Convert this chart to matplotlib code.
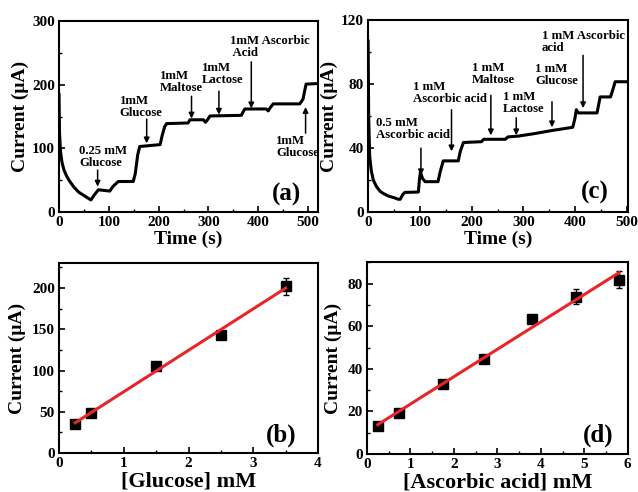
import numpy as np
import matplotlib
matplotlib.use('Agg')
import matplotlib.pyplot as plt
from matplotlib.ticker import MultipleLocator

plt.rcParams['font.family'] = ['Liberation Serif', 'DejaVu Serif']
plt.rcParams['font.weight'] = 'bold'
plt.rcParams['axes.labelweight'] = 'bold'

# (a) amperometric response, glucose additions
t_a = [0, 1, 3, 6, 10, 15, 20, 30, 40, 50, 60, 64, 70, 79, 102, 108, 119, 149, 153, 158, 162,
       203, 207, 212, 216, 259, 263, 290, 294, 299, 303, 366, 370, 373, 416, 420, 424, 430,
       483, 487, 490, 493, 496, 520]
I_a = [185, 125, 95, 78, 66, 57, 50, 39, 31, 26, 21, 19, 26, 35, 33, 40, 48, 48, 60, 90, 103,
       106, 120, 134, 139, 140, 145, 145, 141, 146, 151, 152, 158, 162, 162, 159, 164, 170,
       170, 174, 178, 190, 201, 202]

# (c) amperometric response, ascorbic acid additions
t_c = [0, 1, 3, 6, 10, 16, 23, 30, 39, 50, 58, 62, 67, 71, 97, 99, 101, 105, 110, 135, 139,
       145, 174, 178, 184, 219, 223, 265, 270, 290, 320, 355, 395, 399, 402, 406, 442, 445,
       448, 468, 472, 477, 500]
I_c = [107, 60, 35, 26, 20, 16, 13, 11.5, 10, 9, 8, 8, 11, 12.3, 12.5, 20, 25, 21, 19, 19, 25,
       32, 32, 38, 43.5, 44, 45.5, 45.5, 47, 47.5, 49, 51, 53, 58, 64, 62, 62, 67, 72, 72, 76,
       81.5, 81.5]

# (b) calibration, glucose
glu_conc = [0.25, 0.5, 1.5, 2.5, 3.5]
glu_curr = [35, 49, 106, 143, 202]
glu_err = [2, 2, 3, 5, 10]

# (d) calibration, ascorbic acid
aa_conc = [0.25, 0.75, 1.75, 2.7, 3.8, 4.8, 5.8]
aa_curr = [13.3, 19.5, 33.1, 44.4, 63.3, 73.8, 81.9]
aa_err = [1, 1, 1, 1, 1.5, 3.5, 4]

# annotations: (label, text x, text y, arrow x, arrow tail y, arrow head y)
notes_a = [
    ('0.25 mM\nGlucose', 41, 87, 77.5, 66, 40),
    ('1mM\nGlucose', 122, 165, 176, 146, 108),
    ('1mM\nMaltose', 202, 204, 266, 182, 147),
    ('1mM\nLactose', 286, 217, 321, 190, 153),
    ('1mM Ascorbic\n Acid', 343, 259, 386, 236, 163),
    ('1mM\nGlucose', 436, 103, 495, 124, 165),
]
notes_c = [
    ('0.5 mM\nAscorbic acid', 16, 52, 102, 40, 23),
    ('1 mM\nAscorbic acid', 87, 74.2, 161, 64, 38),
    ('1 mM\nMaltose', 200, 86.5, 237, 73, 48),
    ('1 mM\nLactose', 261, 68, 286, 59, 48),
    ('1 mM\nGlucose', 322.6, 85.7, 355, 69, 53),
    ('1 mM Ascorbic\nacid', 335.5, 106.5, 415, 98, 65),
]

fig = plt.figure(figsize=(6.38, 4.92), dpi=100)
ax_a = fig.add_axes([0.0925, 0.569, 0.406, 0.388])
ax_c = fig.add_axes([0.577, 0.569, 0.4075, 0.390])
ax_b = fig.add_axes([0.0925, 0.079, 0.406, 0.386])
ax_d = fig.add_axes([0.575, 0.077, 0.409, 0.390])


def style(ax, xmaj, xmin, ymaj, ymin):
    for s in ax.spines.values():
        s.set_linewidth(1.5)
    ax.xaxis.set_major_locator(MultipleLocator(xmaj))
    ax.xaxis.set_minor_locator(MultipleLocator(xmin))
    ax.yaxis.set_major_locator(MultipleLocator(ymaj))
    ax.yaxis.set_minor_locator(MultipleLocator(ymin))
    ax.tick_params(which='both', direction='in', top=False, right=False, labelsize=11, pad=3)
    ax.tick_params(which='major', length=4, width=1.2)
    ax.tick_params(which='minor', length=2.5, width=1)


def draw_notes(ax, notes):
    for txt, tx, ty, ax_x, y0, y1 in notes:
        ax.text(tx, ty, txt, ha='left', va='center', fontsize=9.2, linespacing=1.0)
        ax.annotate('', xy=(ax_x, y1), xytext=(ax_x, y0),
                    arrowprops=dict(arrowstyle='-|>', color='black', lw=1.1,
                                    mutation_scale=8, shrinkA=0, shrinkB=0))


# (a)
ax_a.plot(t_a, I_a, color='black', lw=2.2)
ax_a.set_xlim(0, 520)
ax_a.set_ylim(0, 300)
style(ax_a, 100, 50, 100, 50)
ax_a.set_xlabel('Time (s)', fontsize=14, labelpad=1)
ax_a.set_ylabel('Current (μA)', fontsize=14, labelpad=2)
draw_notes(ax_a, notes_a)
ax_a.text(0.88, 0.094, '(a)', transform=ax_a.transAxes, ha='center', va='center', fontsize=18)

# (c)
ax_c.plot(t_c, I_c, color='black', lw=2.2)
ax_c.set_xlim(0, 502)
ax_c.set_ylim(0, 120)
style(ax_c, 100, 50, 40, 20)
ax_c.set_xlabel('Time (s)', fontsize=14, labelpad=1)
ax_c.set_ylabel('Current (μA)', fontsize=14, labelpad=2)
draw_notes(ax_c, notes_c)
ax_c.text(0.87, 0.10, '(c)', transform=ax_c.transAxes, ha='center', va='center', fontsize=18)

# (b)
k_b = np.polyfit(glu_conc, glu_curr, 1)
xb = np.array([glu_conc[0], glu_conc[-1]])
ax_b.errorbar(glu_conc, glu_curr, yerr=glu_err, fmt='s', color='black', ms=7.5,
              ecolor='black', elinewidth=1, capsize=2, zorder=2)
ax_b.plot(xb, np.polyval(k_b, xb), color='#e8262a', lw=2.2, zorder=3)
ax_b.set_xlim(0, 4)
ax_b.set_ylim(0, 230)
style(ax_b, 1, 0.5, 50, 25)
ax_b.set_xlabel('[Glucose] mM', fontsize=16, labelpad=1)
ax_b.set_ylabel('Current (μA)', fontsize=14, labelpad=4)
ax_b.text(0.857, 0.095, '(b)', transform=ax_b.transAxes, ha='center', va='center', fontsize=18)

# (d)
k_d = np.polyfit(aa_conc, aa_curr, 1)
xd = np.array([aa_conc[0], aa_conc[-1]])
ax_d.errorbar(aa_conc, aa_curr, yerr=aa_err, fmt='s', color='black', ms=7.5,
              ecolor='black', elinewidth=1, capsize=2, zorder=2)
ax_d.plot(xd, np.polyval(k_d, xd), color='#e8262a', lw=2.2, zorder=3)
ax_d.set_xlim(0, 6)
ax_d.set_ylim(0, 90)
style(ax_d, 1, 0.5, 20, 10)
ax_d.set_xlabel('[Ascorbic acid] mM', fontsize=16, labelpad=1)
ax_d.set_ylabel('Current (μA)', fontsize=14, labelpad=4)
ax_d.text(0.885, 0.10, '(d)', transform=ax_d.transAxes, ha='center', va='center', fontsize=18)

fig.savefig('out.png', dpi=100)
